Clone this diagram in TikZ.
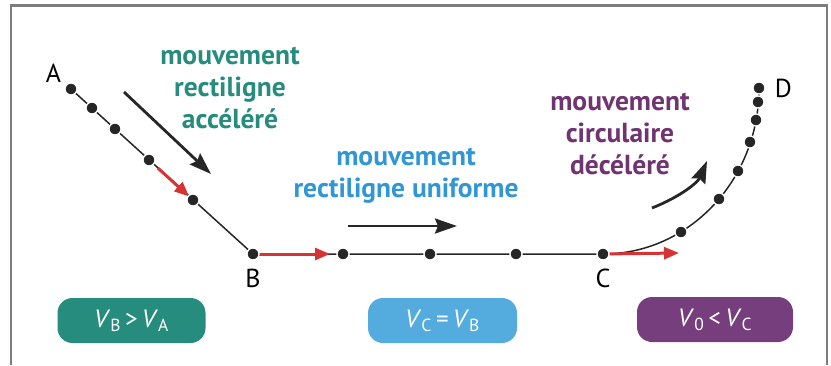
\documentclass[tikz,border=0pt]{standalone}
\usepackage{fontspec}
\setmainfont{PT Sans}
\usetikzlibrary{positioning,arrows.meta}
\definecolor{mvteal}{RGB}{38,140,126}
\definecolor{mvblue}{RGB}{48,150,212}
\definecolor{mvbluebox}{RGB}{84,172,222}
\definecolor{mvpurple}{RGB}{112,52,112}
\definecolor{mvpurplebox}{RGB}{118,62,124}
\definecolor{mvred}{RGB}{214,52,52}
\definecolor{framegray}{RGB}{125,125,125}
\tikzset{
  pt/.style={circle, fill=black!85, draw=white, line width=1.3pt,
             inner sep=0pt, minimum size=12pt},
  ptlbl/.style={font=\fontsize{26}{26}\selectfont, inner sep=0pt},
  mvtxt/.style={font=\bfseries\fontsize{27.5}{32}\selectfont, align=center, inner sep=0pt},
  vbox/.style={rounded corners=15pt, minimum width=148pt, minimum height=45pt,
               text=white, font=\fontsize{25}{25}\selectfont, inner sep=0pt},
  traj/.style={black!85, line width=1.5pt},
  ra/.style={-{Triangle[length=15pt, width=12pt]}, mvred, line width=3pt},
  ba/.style={-{Stealth[length=22pt, width=15pt, inset=3pt]}, black!85, line width=2.8pt}
}

\begin{document}
\begin{tikzpicture}[x=1pt, y=-1pt]
  \useasboundingbox (0,0) rectangle (831,365);
  % cadre
  \draw[framegray, line width=2.5pt] (11,365) -- (11,5.5) -- (827,5.5) -- (827,365);

  % points
  \coordinate (A) at (71,89);
  \coordinate (B) at (253,254);
  \coordinate (C) at (603,254);
  \coordinate (D) at (759,88);
  \foreach \x/\y [count=\i] in {92/108, 115/129, 149/160, 193/200} \coordinate (ab\i) at (\x,\y);
  \foreach \x/\y [count=\i] in {343/254, 430/254, 516/254} \coordinate (bc\i) at (\x,\y);
  \foreach \x/\y [count=\i] in {681/232, 719/199, 738/171, 750/142, 756/120, 758/102} \coordinate (cd\i) at (\x,\y);
  \coordinate (vB) at (330,254);
  \coordinate (vC) at (679,253);

  % trajectoire
  \draw[traj] (A) -- (B) -- (C) .. controls +(86,0) and +(0,92) .. (D);
  \draw[ra, shorten <=12pt, shorten >=5pt] (ab3) -- (ab4);
  \draw[ra] (B) -- (vB);
  \draw[ra] (C) -- (vC);
  \foreach \n in {A,B,C,D,ab1,ab2,ab3,ab4,bc1,bc2,bc3,cd1,cd2,cd3,cd4,cd5,cd6}
    \node[pt] (p\n) at (\n) {};

  \node[ptlbl, above left=2pt and 5pt of pA] (lA) {A};
  \node[ptlbl, below=8pt of pB] (lB) {B};
  \node[ptlbl, below=8pt of pC] (lC) {C};
  \node[ptlbl, right=9pt of pD] (lD) {D};

  % sens du mouvement
  \coordinate (ab0) at (124,92);  \coordinate (abE) at (211,174);
  \coordinate (bc0) at (348,226); \coordinate (bcE) at (457,226);
  \coordinate (cd0) at (652,208); \coordinate (cdE) at (707,161);
  \draw[ba] (ab0) -- (abE);
  \draw[ba] (bc0) -- (bcE);
  \draw[ba] (cd0) .. controls (682,196) and (698,182) .. (cdE);

  \node[mvtxt, text=mvteal] (tAB) at (230,88) {mouvement\\rectiligne\\accéléré};
  \node[mvtxt, text=mvblue] (tBC) at (406,176) {mouvement\\rectiligne uniforme};
  \node[mvtxt, text=mvpurple] (tCD) at (620,134) {mouvement\\circulaire\\décéléré};

  \node[vbox, fill=mvteal] (vAB) at (131.5,320.5)
    {\textit{V}\textsubscript{B}\,>\,\textit{V}\textsubscript{A}};
  \node[vbox, fill=mvbluebox, minimum width=149pt] (vBC) at (442.5,320.5)
    {\textit{V}\textsubscript{C}\,=\,\textit{V}\textsubscript{B}};
  \node[vbox, fill=mvpurplebox, minimum width=156pt] (vCD) at (715,319.5)
    {\textit{V}\textsubscript{0}\,<\,\textit{V}\textsubscript{C}};
\end{tikzpicture}
\end{document}
